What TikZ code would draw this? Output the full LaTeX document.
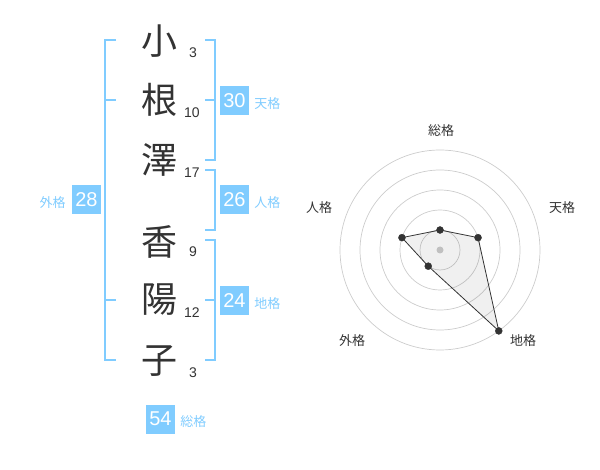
\documentclass[tikz,border=0pt]{standalone}
\usepackage{fontspec}
\setmainfont{Liberation Sans}
\newfontfamily\jpfont{Noto Sans CJK JP}
\usepackage{xcolor}
\usepackage{tikz}
\usetikzlibrary{positioning}

\definecolor{kakublue}{HTML}{80CCFF}
\definecolor{inkgray}{HTML}{333333}
\definecolor{ringgray}{HTML}{CCCCCC}

\tikzset{
  kanji/.style={font=\jpfont\fontsize{36}{36}\selectfont, text=inkgray, inner sep=0pt},
  strokes/.style={font=\fontsize{14}{14}\selectfont, text=inkgray, inner sep=0pt},
  kakubox/.style={fill=kakublue, text=white, font=\fontsize{20}{20}\selectfont, minimum size=29pt, inner sep=0pt},
  kakulabel/.style={text=kakublue, font=\jpfont\fontsize{13}{13}\selectfont, inner sep=0pt},
  bracket/.style={draw=kakublue, line width=2.5pt},
  ring/.style={draw=ringgray, line width=0.7pt},
  axislabel/.style={text=inkgray, font=\jpfont\fontsize{13}{13}\selectfont, inner sep=0pt}
}

\begin{document}
\begin{tikzpicture}[x=1pt,y=-1pt]
				\useasboundingbox (0,0) rectangle (600,470);

				% name
				\node[kanji] (c1) at (159,41) {小};
				\node[kanji] (c2) at (159,100) {根};
				\node[kanji] (c3) at (159,160) {澤};
				\node[kanji] (c4) at (159,242) {香};
				\node[kanji] (c5) at (159,300) {陽};
				\node[kanji] (c6) at (159,361) {子};

				\node[strokes] (n1) at (193,53) {3};
				\node[strokes] (n2) at (192,113) {10};
				\node[strokes] (n3) at (192,173) {17};
				\node[strokes] (n4) at (193,252) {9};
				\node[strokes] (n5) at (192,313) {12};
				\node[strokes] (n6) at (193,373) {3};

				% brackets
				\draw[bracket] (116,40) -- (105,40) -- (105,360) -- (116,360);
				\draw[bracket] (105,100) -- (116,100);
				\draw[bracket] (105,300) -- (116,300);

				\draw[bracket] (205,40) -- (215,40) -- (215,160) -- (205,160);
				\draw[bracket] (205,100) -- (215,100);
				\draw[bracket] (205,170) -- (215,170) -- (215,230) -- (205,230);
				\draw[bracket] (205,240) -- (215,240) -- (215,360) -- (205,360);
				\draw[bracket] (205,300) -- (215,300);

				% scores
				\node[kakubox] (gai) at (86.5,200) {28};
				\node[kakulabel, left=6pt of gai, yshift=-3pt] (gailbl) {外格};
				\node[kakubox] (ten) at (234.5,100.5) {30};
				\node[kakulabel, right=5pt of ten, yshift=-3pt] (tenlbl) {天格};
				\node[kakubox] (jin) at (234.5,200) {26};
				\node[kakulabel, right=5pt of jin, yshift=-3pt] (jinlbl) {人格};
				\node[kakubox] (chi) at (234.5,300.5) {24};
				\node[kakulabel, right=5pt of chi, yshift=-3pt] (chilbl) {地格};
				\node[kakubox] (sou) at (160.5,419) {54};
				\node[kakulabel, right=5pt of sou, yshift=-3pt] (soulbl) {総格};

				% radar
				\coordinate (o) at (440,250);
				\foreach \r in {20,40,60,80,100}
					\draw[ring] (o) circle (\r pt);
				\fill[ringgray] (o) circle (3.5pt);

				\coordinate (psou) at ([shift={(90:20pt)}]o);
				\coordinate (pten) at ([shift={(18:40pt)}]o);
				\coordinate (pchi) at ([shift={(-54:100pt)}]o);
				\coordinate (pgai) at ([shift={(-126:20pt)}]o);
				\coordinate (pjin) at ([shift={(162:40pt)}]o);

				\filldraw[draw=inkgray, fill=black, fill opacity=0.06, line width=0.8pt] (psou) -- (pten) -- (pchi) -- (pgai) -- (pjin) -- cycle;
				\foreach \p in {psou,pten,pchi,pgai,pjin}
					\filldraw[inkgray] (\p) circle (3.5pt);

				\node[axislabel] (asou) at (441,131) {総格};
				\node[axislabel] (aten) at (562,208) {天格};
				\node[axislabel] (achi) at (523,341) {地格};
				\node[axislabel] (agai) at (352,341) {外格};
				\node[axislabel] (ajin) at (319,208) {人格};
			\end{tikzpicture}
\end{document}
